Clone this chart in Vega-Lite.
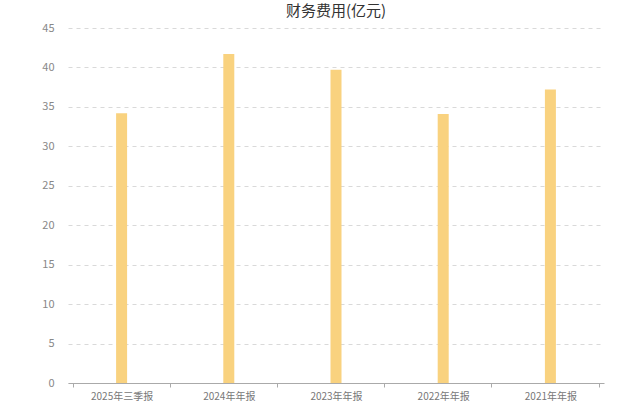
{
  "$schema": "https://vega.github.io/schema/vega-lite/v6.json",
  "autosize": {"type": "none"},
  "width": 536,
  "height": 355,
  "padding": {"left": 68, "top": 28, "right": 36, "bottom": 22},
  "background": "#ffffff",
  "title": {
    "text": "财务费用(亿元)",
    "font": "Noto Sans CJK SC",
    "fontSize": 15,
    "fontWeight": "normal",
    "color": "#333333",
    "offset": 3
  },
  "data": {
    "values": [
      {"period": "2025年三季报", "value": 34.2},
      {"period": "2024年年报", "value": 41.7},
      {"period": "2023年年报", "value": 39.7},
      {"period": "2022年年报", "value": 34.1},
      {"period": "2021年年报", "value": 37.2}
    ]
  },
  "mark": {"type": "bar", "color": "#F9D27F", "width": 11},
  "encoding": {
    "x": {
      "field": "period",
      "type": "nominal",
      "sort": null,
      "title": null,
      "axis": {
        "labelAngle": 0,
        "tickBand": "extent",
        "domainColor": "#aaaaaa",
        "tickColor": "#aaaaaa",
        "tickSize": 4,
        "labelColor": "#777777",
        "labelFont": "Noto Sans CJK SC",
        "labelFontSize": 10,
        "labelPadding": 4
      }
    },
    "y": {
      "field": "value",
      "type": "quantitative",
      "title": null,
      "scale": {"domain": [0, 45]},
      "axis": {
        "values": [0, 5, 10, 15, 20, 25, 30, 35, 40, 45],
        "domain": false,
        "ticks": false,
        "gridColor": "#d9d9d9",
        "gridDash": [4, 4],
        "labelColor": "#888888",
        "labelFont": "Noto Sans CJK SC",
        "labelFontSize": 11,
        "labelPadding": 14
      }
    }
  },
  "config": {"view": {"stroke": null}}
}
